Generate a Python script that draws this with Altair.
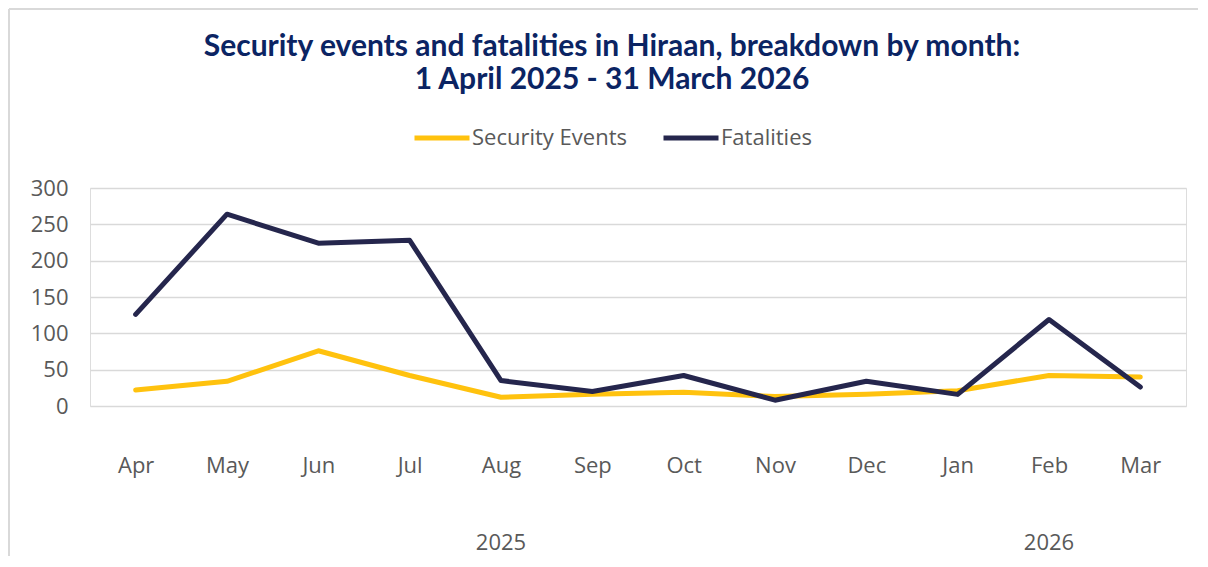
import altair as alt
import pandas as pd

months = ["Apr", "May", "Jun", "Jul", "Aug", "Sep", "Oct", "Nov", "Dec", "Jan", "Feb", "Mar"]
security_events = [22, 34, 76, 42, 12, 16, 19, 13, 16, 21, 42, 40]
fatalities = [126, 264, 224, 228, 35, 20, 42, 8, 34, 16, 119, 26]
series_names = ["Security Events", "Fatalities"]
series_colors = ["#FFC20E", "#25264D"]
year_labels = ["2025", "2026"]
year_label_months = ["Aug", "Feb"]
y_ticks = [0, 50, 100, 150, 200, 250, 300]

W, H = 1096, 218
FONT = "Open Sans"
TITLE_FONT = "Lato"
GRAY = "#595959"
FS = 22

rows = []
for m, v in zip(months, security_events):
    rows.append({"month": m, "series": series_names[0], "value": v})
for m, v in zip(months, fatalities):
    rows.append({"month": m, "series": series_names[1], "value": v})
df = pd.DataFrame(rows)

xscale = alt.Scale(domain=months, padding=0.5)

lines = alt.Chart(df).mark_line(strokeWidth=5, strokeCap="round", strokeJoin="round").encode(
    x=alt.X("month:O", sort=months, scale=xscale,
            axis=alt.Axis(title=None, ticks=False, domain=False, labelPadding=49,
                          labelAngle=0, labelFont=FONT, labelFontSize=FS, labelColor=GRAY)),
    y=alt.Y("value:Q", scale=alt.Scale(domain=[0, 300], nice=False),
            axis=alt.Axis(title=None, values=y_ticks, ticks=False, domain=False, labelPadding=22,
                          labelFont=FONT, labelFontSize=FS, labelColor=GRAY,
                          gridColor="#D9D9D9", gridWidth=1.5)),
    color=alt.Color("series:N", sort=series_names,
                    scale=alt.Scale(domain=series_names, range=series_colors),
                    legend=alt.Legend(title=None, orient="none", legendX=322, legendY=-80,
                                      direction="horizontal", symbolType="stroke",
                                      symbolStrokeWidth=5, symbolSize=3025, columnPadding=26,
                                      labelOffset=0, labelFont=FONT, labelFontSize=FS,
                                      labelColor=GRAY)),
    order=alt.Order("series:N"),
)

years_df = pd.DataFrame({"month": year_label_months, "label": year_labels})
years = alt.Chart(years_df).mark_text(font=FONT, fontSize=FS, color=GRAY, baseline="middle").encode(
    x=alt.X("month:O", sort=months, scale=xscale),
    y=alt.value(H + 137),
    text="label:N",
)

dummy = pd.DataFrame({"a": [0]})
left_border = alt.Chart(dummy).mark_rule(color="#D9D9D9", strokeWidth=2).encode(
    x=alt.value(-81), y=alt.value(-179), y2=alt.value(H + 150)
)
top_border = alt.Chart(dummy).mark_rule(color="#D9D9D9", strokeWidth=2).encode(
    x=alt.value(-81), x2=alt.value(W + 12), y=alt.value(-179)
)

chart = alt.layer(left_border, top_border, lines, years).properties(
    width=W, height=H,
    padding=0,
    title=alt.TitleParams(
        text=["Security events and fatalities in Hiraan, breakdown by month:",
              "1 April 2025 - 31 March 2026"],
        font=TITLE_FONT, fontSize=30, fontWeight="bold", color="#0B2463",
        lineHeight=33, anchor="middle", dx=-26, offset=-87,
    ),
).configure_view(stroke=None).configure(background="white")

chart.save("out.html", embed_options={"renderer": "svg", "actions": False})
